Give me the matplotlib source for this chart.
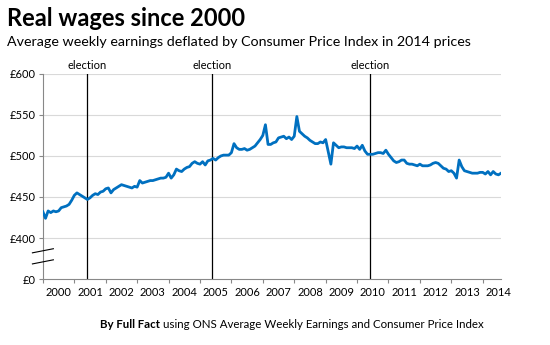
import numpy as np
import matplotlib
matplotlib.use("Agg")
import matplotlib.pyplot as plt

# Monthly real average weekly earnings (2014 prices), Jan 2000 - Aug 2014
wages = [
    432, 424, 433, 431, 433, 432, 433, 437, 438, 439, 441, 446,  # 2000
    452, 455, 453, 451, 449, 447, 449, 452, 454, 453, 456, 457,  # 2001
    460, 461, 455, 459, 461, 463, 465, 464, 463, 462, 461, 463,  # 2002
    462, 470, 467, 468, 469, 470, 470, 471, 472, 473, 473, 474,  # 2003
    479, 473, 477, 484, 482, 481, 484, 486, 487, 491, 493, 491,  # 2004
    490, 493, 489, 494, 495, 497, 495, 498, 500, 501, 501, 501,  # 2005
    504, 515, 510, 508, 508, 509, 507, 508, 510, 512, 516, 520,  # 2006
    525, 538, 514, 514, 516, 517, 522, 523, 524, 521, 523, 520,  # 2007
    524, 548, 530, 527, 524, 522, 519, 517, 515, 515, 517, 516,  # 2008
    520, 505, 490, 516, 513, 510, 511, 511, 510, 510, 510, 509,  # 2009
    512, 508, 513, 506, 502, 502, 502, 503, 504, 504, 503, 507,  # 2010
    502, 498, 494, 492, 493, 495, 495, 491, 490, 490, 489, 488,  # 2011
    490, 488, 488, 488, 489, 491, 492, 491, 488, 485, 484, 481,  # 2012
    482, 479, 473, 495, 487, 482, 481, 480, 479, 479, 479, 480,  # 2013
    480, 478, 481, 477, 481, 478, 477, 479,                      # 2014
]
years = list(range(2000, 2015))
election_months = [16.9, 64.5, 125]   # Jun 2001, May 2005, May 2010

y_ticks = [350, 400, 450, 500, 550, 600]
y_labels = ["£0", "£400", "£450", "£500", "£550", "£600"]

plt.rcParams["font.family"] = ["Lato", "DejaVu Sans"]

fig = plt.figure(figsize=(5.5, 3.45), dpi=100)
ax = fig.add_axes([0.078, 0.191, 0.833, 0.595])

months = np.arange(len(wages))
ax.plot(months, wages, color="#0070c0", linewidth=2.0, solid_joinstyle="round", zorder=3)

for m in election_months:
    ax.axvline(m, color="black", linewidth=0.9, zorder=2)
    ax.text(m, 603, "election", ha="center", va="bottom", fontsize=8, clip_on=False)

ax.set_xlim(0, 175)
ax.set_ylim(350, 600)
ax.set_yticks(y_ticks)
ax.set_yticklabels(y_labels)
for v in y_ticks[1:]:
    ax.axhline(v, color="#d9d9d9", linewidth=0.8, zorder=1)

ax.set_xticks(range(0, 12 * len(years), 12))
ax.set_xticklabels([])
ax.set_xticks([12 * k + 6 for k in range(len(years))], minor=True)
ax.set_xticklabels([str(y) for y in years], minor=True)
ax.tick_params(axis="x", which="major", length=3, color="#888888")
ax.tick_params(axis="x", which="minor", length=0, pad=6, labelsize=8)
ax.tick_params(axis="y", length=3, color="#888888", labelsize=8, pad=2)

for side in ["top", "right"]:
    ax.spines[side].set_visible(False)
for side in ["left", "bottom"]:
    ax.spines[side].set_color("#888888")

# axis break marks
for y0 in [382, 368.5]:
    ax.plot([-4, 4], [y0, y0 + 5], color="black", linewidth=0.8, clip_on=False, zorder=4)

fig.text(0.013, 0.925, "Real wages since 2000", fontsize=17, fontweight="bold")
fig.text(0.013, 0.868, "Average weekly earnings deflated by Consumer Price Index in 2014 prices",
         fontsize=10.25)

# footer: bold part followed by regular part
by = fig.text(0.182, 0.05, "By Full Fact", fontsize=8.3, fontweight="bold")
fig.canvas.draw()
bb = by.get_window_extent()
fig.text(bb.x1 / fig.bbox.width, 0.05, " using ONS Average Weekly Earnings and Consumer Price Index",
         fontsize=8.3)

fig.savefig("out.png", dpi=100)
